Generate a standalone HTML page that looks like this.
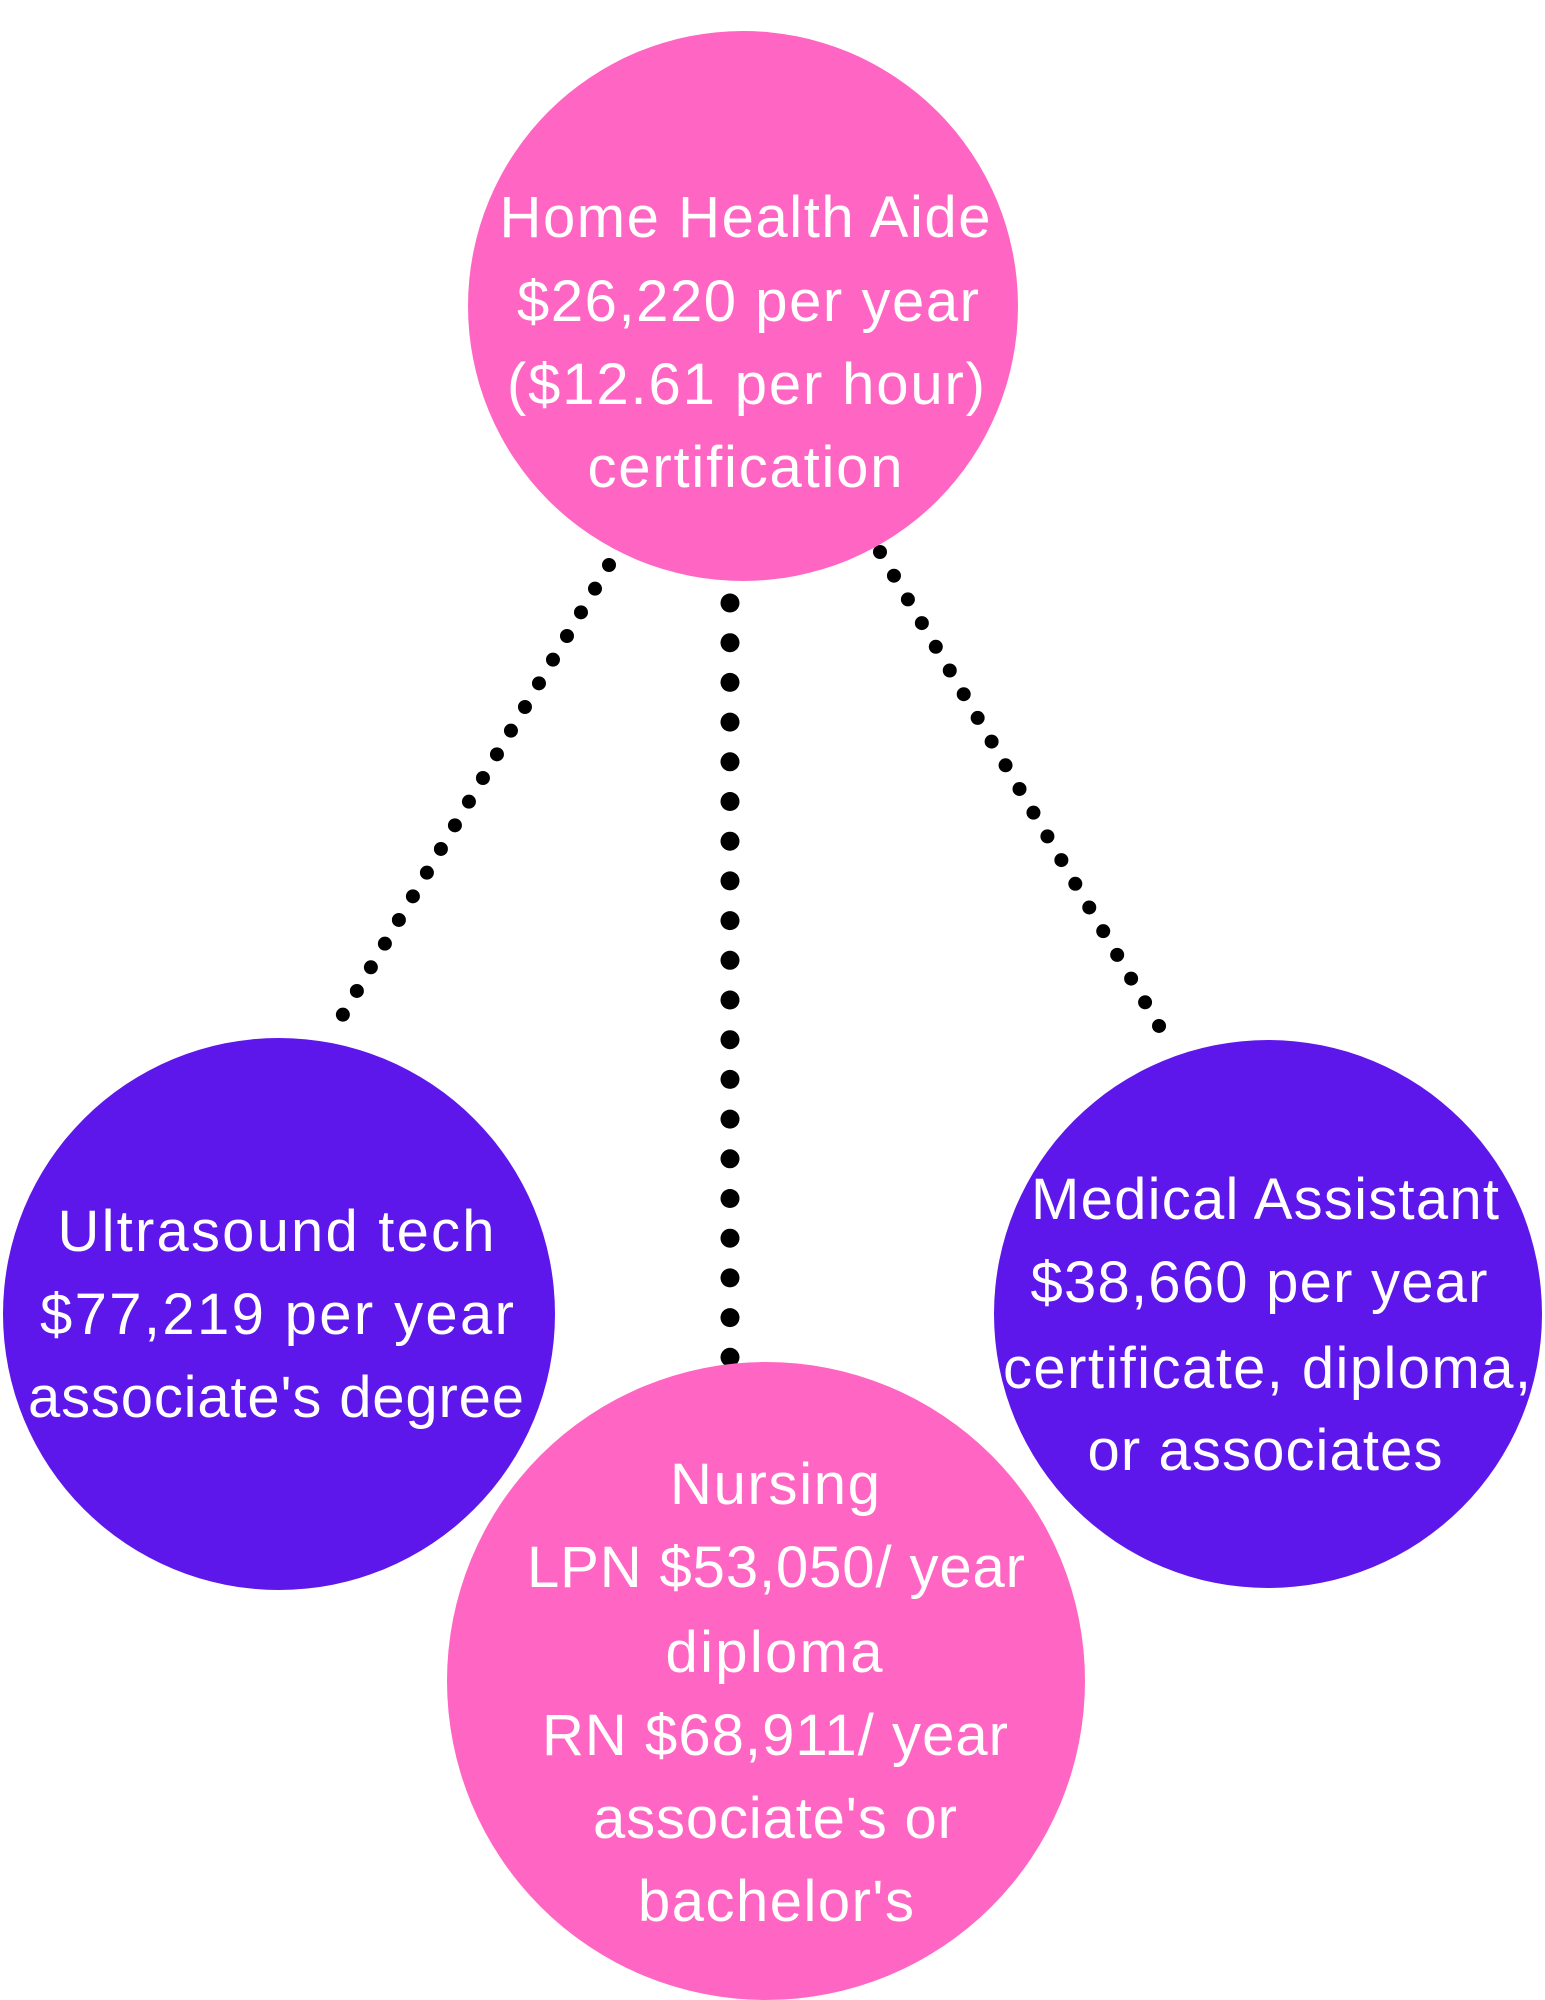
<!DOCTYPE html>
<html><head><meta charset="utf-8"><style>html,body{margin:0;padding:0;background:#fff}svg{display:block}</style></head>
<body>
<svg width="1545" height="2000" viewBox="0 0 1545 2000" xmlns="http://www.w3.org/2000/svg">
<rect width="1545" height="2000" fill="#fff"/>
<line x1="609" y1="565" x2="332" y2="1033" stroke="#000" stroke-width="14" stroke-linecap="round" stroke-dasharray="0 27.5"/>
<line x1="880" y1="552" x2="1172" y2="1048" stroke="#000" stroke-width="14" stroke-linecap="round" stroke-dasharray="0 27.5"/>
<line x1="730" y1="603" x2="730" y2="1358" stroke="#000" stroke-width="19" stroke-linecap="round" stroke-dasharray="0 39.7"/>
<circle cx="743" cy="306" r="275" fill="#ff66c4"/>
<circle cx="279" cy="1314" r="276" fill="#5e17eb"/>
<circle cx="1268" cy="1314" r="274" fill="#5e17eb"/>
<circle cx="766" cy="1681" r="319" fill="#ff66c4"/>
<g font-family="Liberation Sans, sans-serif" font-size="58" fill="#fff" text-anchor="middle" lengthAdjust="spacingAndGlyphs">
<text x="745" y="237" textLength="491">Home Health Aide</text>
<text x="748" y="321" textLength="462">$26,220 per year</text>
<text x="746" y="404" textLength="478">($12.61 per hour)</text>
<text x="745" y="487" textLength="315">certification</text>

<text x="276" y="1251" textLength="437">Ultrasound tech</text>
<text x="277" y="1334" textLength="474">$77,219  per year</text>
<text x="276" y="1417" textLength="496">associate's degree</text>

<text x="1265" y="1219" textLength="468">Medical Assistant</text>
<text x="1259" y="1302" textLength="457">$38,660 per year</text>
<text x="1267" y="1388" textLength="528">certificate, diploma,</text>
<text x="1265" y="1470" textLength="355">or associates</text>

<text x="775" y="1504" textLength="210">Nursing</text>
<text x="776" y="1587" textLength="498">LPN $53,050/ year</text>
<text x="774" y="1672" textLength="217">diploma</text>
<text x="775" y="1755" textLength="466">RN $68,911/ year</text>
<text x="775" y="1838" textLength="364">associate's or</text>
<text x="776" y="1921" textLength="276">bachelor's</text>
</g>
</svg>
</body></html>
